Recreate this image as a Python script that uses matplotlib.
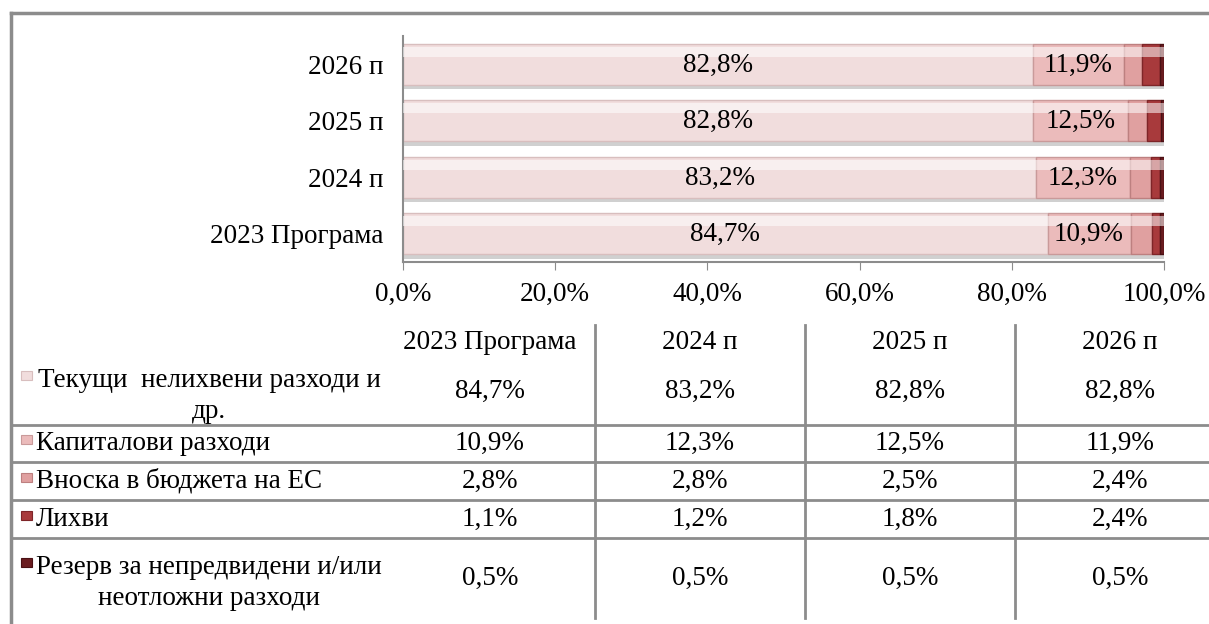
import numpy as np
import matplotlib.pyplot as plt
from matplotlib.lines import Line2D
from matplotlib.patches import Rectangle

plt.rcParams['font.family'] = ['Liberation Serif', 'DejaVu Serif']

years = ['2023 Програма', '2024 п', '2025 п', '2026 п']
series = ['Текущи  нелихвени разходи и\nдр.', 'Капиталови разходи',
          'Вноска в бюджета на ЕС', 'Лихви',
          'Резерв за непредвидени и/или\nнеотложни разходи']
current = [84.7, 83.2, 82.8, 82.8]
capital = [10.9, 12.3, 12.5, 11.9]
eu_fee = [2.8, 2.8, 2.5, 2.4]
interest = [1.1, 1.2, 1.8, 2.4]
reserve = [0.5, 0.5, 0.5, 0.5]
colors = ['#F1DDDD', '#EBBBBB', '#E0A0A0', '#A83A3C', '#6A1C20']
edges = ['#D8BEBE', '#C99A9A', '#BD8080', '#7E2528', '#4A1014']

FS = 19.5
W, H = 1209, 624
fig = plt.figure(figsize=(W / 100, H / 100), dpi=100)


def fx(px):
    return px / W


def fy(py):
    return 1 - py / H


def pct(v):
    return f'{v:.1f}%'.replace('.', ',')


ax = fig.add_axes([fx(403), fy(262), fx(1164) - fx(403), fy(36) - fy(262)])
data = [current, capital, eu_fee, interest, reserve]
y = np.arange(len(years))
left = np.zeros(len(years))
bh = 0.73
for i, vals in enumerate(data):
    vals = np.array(vals)
    # shadow
    ax.barh(y - 0.08, vals, bh, left=left, color='#8A8A8A', alpha=0.4, zorder=1, linewidth=0)
    ax.barh(y, vals, bh, left=left, color=colors[i], edgecolor=edges[i], linewidth=1, zorder=2)
    # bevel highlight
    ax.barh(y + bh * 0.3, vals, bh * 0.24, left=left, color='white', alpha=0.55, zorder=3, linewidth=0)
    if i < 2:
        for yy, l, v in zip(y, left, vals):
            ax.text(l + v / 2, yy - 0.02, pct(v), ha='center', va='center', fontsize=FS, zorder=5)
    left += vals

ax.set_xlim(0, 100)
ax.set_ylim(-0.5, 3.5)
ax.set_yticks(y)
ax.set_yticklabels(years, fontsize=FS)
ticks = np.arange(0, 101, 20)
ax.set_xticks(ticks)
ax.set_xticklabels([pct(t) for t in ticks], fontsize=FS)
ax.tick_params(axis='y', length=0, pad=14)
ax.tick_params(axis='x', length=6, color='#8C8C8C', pad=8)
for s in ['top', 'right']:
    ax.spines[s].set_visible(False)
for s in ['left', 'bottom']:
    ax.spines[s].set_color('#8C8C8C')
    ax.spines[s].set_linewidth(1.5)

# outer border
line_c = '#8C8C8C'
fig.add_artist(Line2D([fx(11), 1], [fy(13), fy(13)], color=line_c, lw=2.5))
fig.add_artist(Line2D([fx(11), fx(11)], [fy(13), 0], color=line_c, lw=2.5))

# data table
col_x = [490, 700, 910, 1120]
row_y = [391, 443, 481, 519, 578]
label_y = [396, 443, 481, 519, 583]
for cx, yr in zip(col_x, years):
    fig.text(fx(cx), fy(342), yr, ha='center', va='center', fontsize=FS)
for r, vals in enumerate(data):
    for cx, v in zip(col_x, vals):
        fig.text(fx(cx), fy(row_y[r]), pct(v), ha='center', va='center', fontsize=FS)
    two = '\n' in series[r]
    my = label_y[r] - 20 if two else label_y[r] - 3
    fig.add_artist(Rectangle((fx(21), fy(my + 4)), 11 / W, 9 / H,
                             facecolor=colors[r], edgecolor=edges[r], lw=0.8))
    if two:
        fig.text(fx(209), fy(label_y[r]), series[r], ha='center', va='center', fontsize=FS,
                 multialignment='center', linespacing=1.3)
    else:
        fig.text(fx(36), fy(label_y[r]), series[r], ha='left', va='center', fontsize=FS)

for hy in [425, 462, 500, 538]:
    fig.add_artist(Line2D([fx(11), 1], [fy(hy), fy(hy)], color=line_c, lw=2))
for vx in [595, 805, 1015]:
    fig.add_artist(Line2D([fx(vx), fx(vx)], [fy(325), fy(618)], color=line_c, lw=2))

fig.savefig('out.png', dpi=100)
